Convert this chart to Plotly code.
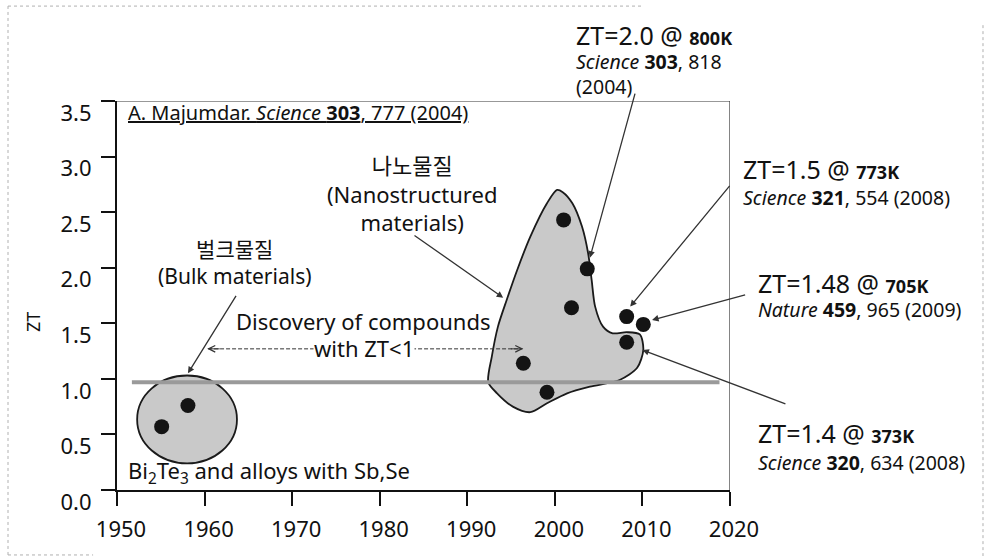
import plotly.graph_objects as go

# ---------------- data ----------------
x_ticks = [1950, 1960, 1970, 1980, 1990, 2000, 2010, 2020]
y_ticks = [0.0, 0.5, 1.0, 1.5, 2.0, 2.5, 3.0, 3.5]

bulk_year = [1955.1, 1958.1]
bulk_zt = [0.57, 0.76]

nano_year = [2001.0, 2003.7, 2001.9, 1996.4, 1999.1, 2008.2, 2010.1, 2008.2]
nano_zt = [2.43, 1.99, 1.64, 1.14, 0.88, 1.56, 1.49, 1.33]

# outline of the nanostructured-materials region (year, ZT)
blob_year = [2000.25, 1999.1, 1997.2, 1995.7, 1994.5, 1993.5, 1992.8, 1992.4, 1993.4,
             1995.2, 1997.2, 1999.1, 2001.4, 2004.0, 2007.4, 2009.4, 2010.1, 2009.7,
             2008.2, 2006.6, 2005.5, 2004.6, 2004.2, 2003.8, 2003.1, 2002.0, 2000.9, 2000.25]
blob_zt = [2.70, 2.58, 2.28, 1.98, 1.71, 1.47, 1.20, 0.97, 0.87,
           0.75, 0.70, 0.78, 0.87, 0.93, 0.99, 1.10, 1.26, 1.40,
           1.42, 1.41, 1.47, 1.65, 1.89, 2.13, 2.37, 2.58, 2.68, 2.70]

# bulk-materials ellipse bounds (year, ZT)
bulk_ellipse_year = [1952.3, 1963.7]
bulk_ellipse_zt = [0.24, 1.03]

# ZT ~ 1 reference line
ref_year = [1951.7, 2018.8]
ref_zt = [0.97, 0.97]

X0, X1, Y0, Y1 = 1950, 2020, 0.0, 3.5

FONT = "Noto Sans, Noto Sans CJK KR, sans-serif"
INK = "#111111"

def px(yr):
    return (yr - X0) / (X1 - X0)

def py(zt):
    return (zt - Y0) / (Y1 - Y0)

fig = go.Figure()

fig.add_trace(go.Scatter(
    x=blob_year, y=blob_zt, mode="lines", fill="toself",
    fillcolor="#c9c9c9", line=dict(color="#1a1a1a", width=1.8, shape="spline", smoothing=0.8),
    hoverinfo="skip", showlegend=False))

fig.add_trace(go.Scatter(
    x=ref_year, y=ref_zt, mode="lines",
    line=dict(color="#9a9a9a", width=4), hoverinfo="skip", showlegend=False))

fig.add_trace(go.Scatter(
    x=bulk_year + nano_year, y=bulk_zt + nano_zt, mode="markers",
    marker=dict(size=15, color="#141414"), showlegend=False))

shapes = [
    dict(type="circle", xref="x", yref="y",
         x0=bulk_ellipse_year[0], x1=bulk_ellipse_year[1],
         y0=bulk_ellipse_zt[0], y1=bulk_ellipse_zt[1],
         fillcolor="#c9c9c9", line=dict(color="#1a1a1a", width=1.8), layer="below"),
    # top and right frame
    dict(type="line", xref="x", yref="y", x0=X0, x1=X1, y0=Y1, y1=Y1,
         line=dict(color="#333333", width=1.2)),
    dict(type="line", xref="x", yref="y", x0=X1, x1=X1, y0=Y0, y1=Y1,
         line=dict(color="#333333", width=1.2)),
    # dashed discovery line
    dict(type="line", xref="x", yref="y", x0=1960.4, x1=1996.3, y0=1.27, y1=1.27,
         line=dict(color="#333333", width=1, dash="4px,2px")),
]

# outer dotted border (paper coords)
bx0, bx1, by0, by1 = -0.1778, 1.4127, -0.167, 1.244
for (a, b, c, d) in [(bx0, bx0, by0, by1), (bx0, 0.8564, by1, by1),
                     (bx1, bx1, -0.170, 1.195), (bx0, -0.039, by0, by0)]:
    shapes.append(dict(type="line", xref="paper", yref="paper", x0=a, x1=b, y0=c, y1=d,
                       line=dict(color="#b0b0b0", width=1, dash="dot")))

ann = []

def txt(x, y, text, size, xanchor="center", **kw):
    ann.append(dict(x=px(x), y=py(y), xref="paper", yref="paper", text=text, showarrow=False,
                    xanchor=xanchor, yanchor="middle",
                    font=dict(family=FONT, size=size, color=INK), **kw))

def arrow(hx, hy, tx, ty, head=2, size=1.0):
    ann.append(dict(x=hx, y=hy, ax=tx, ay=ty, xref="x", yref="y", axref="x", ayref="y",
                    text="", showarrow=True, arrowhead=head, arrowsize=size,
                    arrowwidth=1.3, arrowcolor="#333333"))

txt(1951.0, 3.40, "<u>A. Majumdar. <i>Science</i> <b>303</b>, 777 (2004)</u>", 20, xanchor="left")
txt(1983.7, 2.67, "나노물질<br>(Nanostructured<br>materials)", 22)
txt(1963.5, 2.05, "벌크물질<br>(Bulk materials)", 21)
txt(1978.2, 1.28, "with ZT&lt;1", 22, bgcolor="white", borderpad=0)
txt(1978.1, 1.52, "Discovery of compounds", 22)
txt(1951.0, 0.16, "Bi<sub>2</sub>Te<sub>3</sub> and alloys with Sb,Se", 22, xanchor="left")

# dashed arrow heads
ann.append(dict(x=1960.3, y=1.27, ax=14, ay=0, xref="x", yref="y", text="",
                showarrow=True, arrowhead=5, arrowsize=1.3, arrowwidth=1, arrowcolor="#333333"))
ann.append(dict(x=1996.4, y=1.27, ax=-14, ay=0, xref="x", yref="y", text="",
                showarrow=True, arrowhead=5, arrowsize=1.3, arrowwidth=1, arrowcolor="#333333"))

# pointer arrows
arrow(1958.1, 1.05, 1963.7, 1.76)
arrow(1994.1, 1.73, 1983.8, 2.30)
arrow(2004.0, 2.09, 2009.2, 3.58)
arrow(2008.6, 1.65, 2020.1, 2.75)
arrow(2011.1, 1.53, 2021.9, 1.76)
arrow(2010.0, 1.26, 2026.5, 0.77)

B = "<span style='font-size:18px'><b>"
E = "</b></span>"
REF = 19.5
txt(2002.2, 4.09, "ZT=2.0 @ " + B + "800K" + E, 25, xanchor="left")
txt(2002.2, 3.74, "<i>Science</i> <b>303</b>, 818<br>(2004)", REF, xanchor="left", align="left")

txt(2021.2, 2.89, "ZT=1.5 @ " + B + "773K" + E, 25, xanchor="left")
txt(2021.2, 2.63, "<i>Science</i> <b>321</b>, 554 (2008)", REF, xanchor="left")

txt(2023.0, 1.86, "ZT=1.48 @ " + B + "705K" + E, 25, xanchor="left")
txt(2023.0, 1.62, "<i>Nature</i> <b>459</b>, 965 (2009)", REF, xanchor="left")

txt(2023.0, 0.51, "ZT=1.4 @ " + B + "373K" + E, 25, xanchor="left")
txt(2023.0, 0.25, "<i>Science</i> <b>320</b>, 634 (2008)", REF, xanchor="left")

# y-axis title
ann.append(dict(x=-0.137, y=0.432, xref="paper", yref="paper", text="ZT", showarrow=False,
                xanchor="center", yanchor="middle",
                textangle=-90, font=dict(family=FONT, size=18, color=INK)))

fig.update_layout(
    width=989, height=556,
    margin=dict(l=117, r=259, t=101, b=66),
    paper_bgcolor="white", plot_bgcolor="white",
    shapes=shapes, annotations=ann,
    font=dict(family=FONT, color=INK),
    xaxis=dict(range=[X0, X1], tickvals=x_ticks, ticktext=[str(v) for v in x_ticks],
               showgrid=False, zeroline=False, showline=True, linecolor="#111111", linewidth=2,
               ticks="outside", ticklen=14, tickwidth=2, tickcolor="#111111",
               tickfont=dict(family=FONT, size=22, color=INK),
               ticklabelstandoff=5, ticklabelshift=4),
    yaxis=dict(range=[Y0, Y1], tickvals=y_ticks, ticktext=[f"{v:.1f}" for v in y_ticks],
               showgrid=False, zeroline=False, showline=True, linecolor="#111111", linewidth=2,
               ticks="outside", ticklen=14, tickwidth=2, tickcolor="#111111",
               tickfont=dict(family=FONT, size=22, color=INK),
               ticklabelstandoff=5, ticklabelshift=12),
)

fig.write_html("out.html", config={"displayModeBar": False},
               post_script="document.body.style.margin='0';")
